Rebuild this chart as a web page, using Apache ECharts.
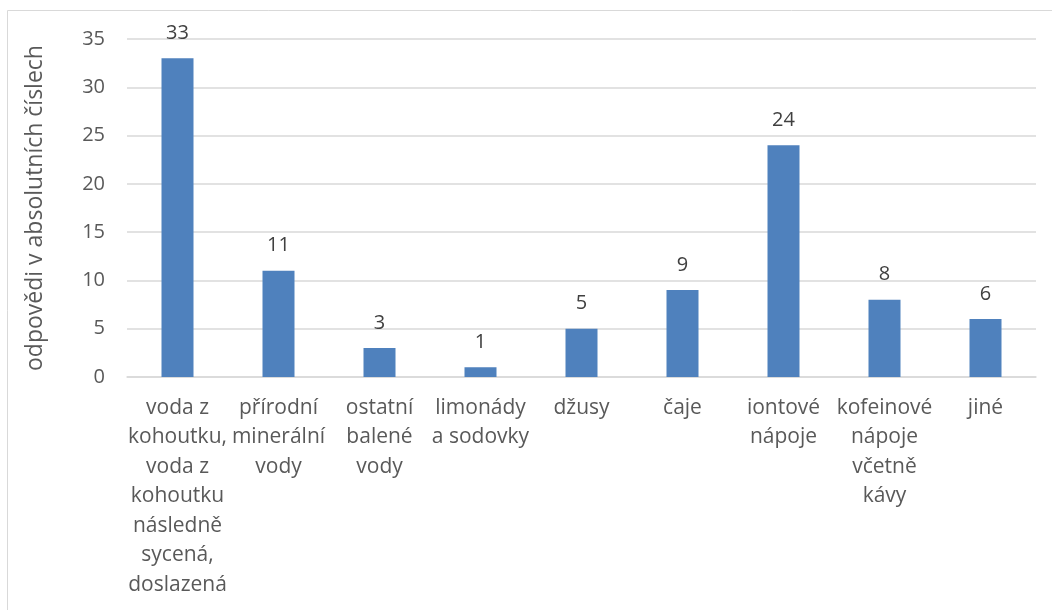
<!DOCTYPE html>
<html>
<head>
<meta charset="utf-8">
<script src="https://cdn.jsdelivr.net/npm/echarts@6/dist/echarts.min.js"></script>
<style>
  html, body { margin: 0; padding: 0; background: #fff; }
  #main { width: 1052px; height: 610px; }
</style>
</head>
<body>
<div id="main"></div>
<script>
// categories (line breaks as shown under the axis)
var categories = [
  'voda z\nkohoutku,\nvoda z\nkohoutku\nnásledně\nsycená,\ndoslazená',
  'přírodní\nminerální\nvody',
  'ostatní\nbalené\nvody',
  'limonády\na sodovky',
  'džusy',
  'čaje',
  'iontové\nnápoje',
  'kofeinové\nnápoje\nvčetně\nkávy',
  'jiné'
];
var answers = [33, 11, 3, 1, 5, 9, 24, 8, 6];
var yTicks = [0, 5, 10, 15, 20, 25, 30, 35];

var font = '"Open Sans", "DejaVu Sans", sans-serif';
var myChart = echarts.init(document.getElementById('main'));

var option = {
  animation: false,
  textStyle: { fontFamily: font },
  grid: { left: 127, right: 16, top: 39, bottom: 233 },
  graphic: [{
    type: 'rect',
    shape: { x: 7.5, y: 10.5, width: 1200, height: 800 },
    style: { fill: 'none', stroke: '#d9d9d9', lineWidth: 1 },
    silent: true
  }],
  xAxis: {
    type: 'category',
    data: categories,
    axisLine: { lineStyle: { color: '#d9d9d9', width: 1.5 } },
    axisTick: { show: false },
    axisLabel: {
      interval: 0,
      color: '#595959',
      fontSize: 21,
      fontFamily: font,
      lineHeight: 29.5,
      margin: 16,
      align: 'center'
    }
  },
  yAxis: {
    type: 'value',
    min: yTicks[0],
    max: yTicks[yTicks.length - 1],
    interval: 5,
    name: 'odpovědi v absolutních číslech',
    nameLocation: 'middle',
    nameRotate: 90,
    nameGap: 80,
    nameTextStyle: { color: '#595959', fontSize: 23, fontFamily: font },
    axisLine: { show: false },
    axisTick: { show: false },
    splitLine: { lineStyle: { color: '#d9d9d9', width: 1.5 } },
    axisLabel: { color: '#595959', fontSize: 20, fontFamily: font, margin: 22 }
  },
  series: [{
    name: 'odpovědi',
    type: 'bar',
    data: answers,
    barWidth: 32,
    itemStyle: { color: '#4f81bd' },
    label: {
      show: true,
      position: 'top',
      distance: 15,
      color: '#404040',
      fontSize: 20,
      lineHeight: 20,
      fontFamily: font
    }
  }]
};

myChart.setOption(option);
</script>
</body>
</html>
